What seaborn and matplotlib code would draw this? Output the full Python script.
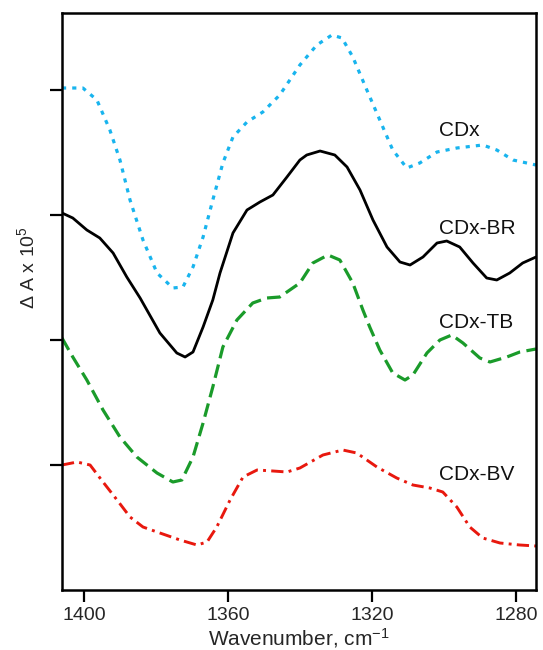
import numpy as np
import pandas as pd
import matplotlib
matplotlib.use("Agg")
import matplotlib.pyplot as plt
import seaborn as sns

# ---- data (wavenumber in cm^-1, offset absorbance difference, arbitrary units) ----
cdx_w = [1406.1, 1400.3, 1396.4, 1392.8, 1390.0, 1387.2, 1383.6, 1379.7, 1375.3, 1372.5,
         1369.7, 1366.9, 1364.2, 1361.4, 1358.6, 1354.7, 1350.3, 1345.6, 1340.0, 1335.3,
         1331.1, 1328.3, 1325.3, 1321.4, 1317.8, 1314.2, 1310.3, 1306.7, 1301.9, 1296.4,
         1289.2, 1285.3, 1280.8, 1274.4]
cdx_y = [4.016, 4.016, 3.92, 3.68, 3.44, 3.12, 2.80, 2.536, 2.416, 2.424,
         2.584, 2.824, 3.12, 3.416, 3.624, 3.744, 3.824, 3.96, 4.20, 4.36,
         4.44, 4.416, 4.264, 4.00, 3.76, 3.52, 3.376, 3.416, 3.504, 3.536,
         3.56, 3.52, 3.44, 3.40]

br_w = [1406.1, 1403.1, 1399.2, 1395.6, 1391.9, 1388.1, 1384.4, 1378.9, 1374.2, 1371.9,
        1369.7, 1366.9, 1364.2, 1362.2, 1358.6, 1354.7, 1351.1, 1347.5, 1343.6, 1340.0,
        1338.1, 1334.4, 1330.3, 1326.9, 1323.3, 1319.7, 1315.8, 1312.2, 1309.4, 1305.8,
        1301.9, 1299.2, 1295.6, 1291.9, 1288.1, 1285.3, 1281.7, 1278.1, 1274.4]
br_y = [3.016, 2.976, 2.88, 2.816, 2.696, 2.504, 2.336, 2.056, 1.896, 1.864,
        1.904, 2.104, 2.32, 2.536, 2.856, 3.04, 3.104, 3.16, 3.304, 3.44,
        3.48, 3.512, 3.48, 3.384, 3.20, 2.96, 2.744, 2.624, 2.60, 2.664,
        2.776, 2.792, 2.744, 2.616, 2.496, 2.48, 2.536, 2.616, 2.664]

tb_w = [1406.1, 1403.1, 1399.2, 1394.7, 1390.0, 1385.3, 1379.7, 1375.3, 1372.8, 1369.7,
        1366.9, 1364.2, 1361.4, 1357.5, 1353.1, 1349.2, 1345.6, 1340.0, 1336.4, 1332.2,
        1328.9, 1325.3, 1322.5, 1320.6, 1317.8, 1314.2, 1310.8, 1308.6, 1304.7, 1301.1,
        1297.8, 1294.7, 1290.0, 1287.2, 1282.5, 1278.9, 1274.4]
tb_y = [2.016, 1.864, 1.68, 1.44, 1.224, 1.064, 0.936, 0.864, 0.88, 1.064,
        1.336, 1.624, 1.944, 2.16, 2.296, 2.336, 2.344, 2.456, 2.616, 2.68,
        2.64, 2.456, 2.24, 2.104, 1.92, 1.736, 1.68, 1.72, 1.896, 2.00,
        2.04, 1.976, 1.856, 1.824, 1.864, 1.904, 1.928]

bv_w = [1406.1, 1401.9, 1398.3, 1394.7, 1390.8, 1387.2, 1383.6, 1378.9, 1373.3, 1368.6,
        1365.8, 1363.1, 1359.4, 1355.8, 1351.9, 1347.5, 1343.6, 1340.0, 1333.6, 1328.1,
        1324.2, 1318.6, 1313.1, 1308.6, 1303.9, 1300.3, 1296.4, 1292.8, 1289.2, 1284.4,
        1278.9, 1274.4]
bv_y = [1.00, 1.024, 1.00, 0.864, 0.72, 0.584, 0.504, 0.456, 0.40, 0.36,
        0.384, 0.504, 0.72, 0.904, 0.96, 0.952, 0.944, 0.976, 1.08, 1.12,
        1.096, 0.984, 0.896, 0.84, 0.816, 0.784, 0.664, 0.504, 0.416, 0.376,
        0.36, 0.352]

series_names = ["CDx", "CDx-BR", "CDx-TB", "CDx-BV"]
label_w = [1301.4, 1301.4, 1301.4, 1301.4]
label_y = [3.672, 2.896, 2.144, 0.928]
x_ticks = [1400, 1360, 1320, 1280]
y_ticks = [1, 2, 3, 4]

# ---- styling ----
sns.set_style("ticks")
plt.rcParams["font.family"] = ["Liberation Sans", "DejaVu Sans"]
plt.rcParams["mathtext.fontset"] = "custom"
plt.rcParams["mathtext.rm"] = "Liberation Sans"
plt.rcParams["mathtext.it"] = "Liberation Sans"

fig = plt.figure(figsize=(5.43, 6.5), dpi=100)
ax = fig.add_axes([62 / 543, 1 - 590 / 650, (536 - 62) / 543, (590 - 13) / 650])

colors = ["#18b4ee", "#000000", "#1a9b2a", "#e8180e"]
styles = [(0, (1.3, 1.9)), "-", (0, (4.3, 2.0)), (0, (4.2, 1.8, 1.0, 1.8))]
widths = [2.3, 2.0, 2.3, 2.1]
data_sets = [(cdx_w, cdx_y), (br_w, br_y), (tb_w, tb_y), (bv_w, bv_y)]

for (w, y), c, ls, lw, name in zip(data_sets, colors, styles, widths, series_names):
    df = pd.DataFrame({"w": w, "y": y})
    sns.lineplot(data=df, x="w", y="y", ax=ax, color=c, linewidth=lw,
                 sort=False, estimator=None)
    ln = ax.lines[-1]
    ln.set_linestyle(ls)
    ln.set_dash_capstyle("butt")
    ln.set_solid_joinstyle("round")
    ln.set_dash_joinstyle("round")

for name, lw_, ly in zip(series_names, label_w, label_y):
    ax.text(lw_, ly, name, fontsize=15, ha="left", va="center", color="#111111")

ax.set_xlim(1406.1, 1274.4)
ax.set_ylim(0, 4.616)
ax.set_xticks(x_ticks)
ax.set_xticklabels([str(t) for t in x_ticks], fontsize=14)
ax.set_yticks(y_ticks)
ax.set_yticklabels([])
ax.tick_params(axis="both", direction="out", length=8.6, width=1.6, color="black")

for sp in ax.spines.values():
    sp.set_linewidth(1.8)
    sp.set_color("black")

ax.set_xlabel("Wavenumber, cm$^{-1}$", fontsize=15, labelpad=2)
ax.set_ylabel("Δ A x 10$^{5}$", fontsize=14)
ax.yaxis.set_label_coords(-0.05, 0.558)

fig.savefig("out.png", dpi=100)
